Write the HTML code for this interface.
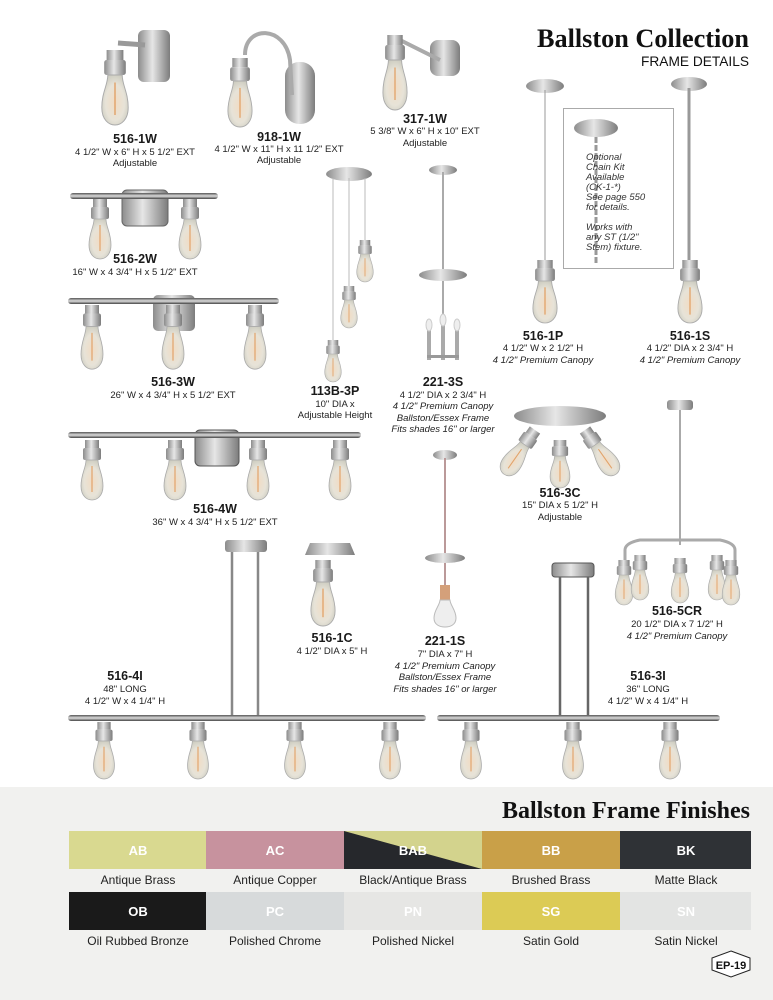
<!DOCTYPE html>
<html><head><meta charset="utf-8"><style>
html,body{margin:0;padding:0;background:#fff;width:773px;height:1000px;overflow:hidden}
svg{display:block}
.c{font:bold 12.5px "Liberation Sans",sans-serif;fill:#1a1a1a;text-anchor:middle}
.d{font:9.5px "Liberation Sans",sans-serif;fill:#222;text-anchor:middle}
.i{font:italic 9.5px "Liberation Sans",sans-serif;fill:#222;text-anchor:middle}
.n{font:italic 9.5px "Liberation Sans",sans-serif;fill:#333}
.sw{font:bold 13px "Liberation Sans",sans-serif;fill:#fff;text-anchor:middle}
.sl{font:12px "Liberation Sans",sans-serif;fill:#222;text-anchor:middle}
</style></head><body>
<svg width="773" height="1000" viewBox="0 0 773 1000" xmlns="http://www.w3.org/2000/svg">
<defs>
<linearGradient id="m" x1="0" x2="1"><stop offset="0" stop-color="#8c8c8c"/><stop offset=".45" stop-color="#e6e6e6"/><stop offset="1" stop-color="#7c7c7c"/></linearGradient>
<linearGradient id="bar" x1="0" y1="0" x2="0" y2="1"><stop offset="0" stop-color="#555"/><stop offset=".5" stop-color="#ddd"/><stop offset="1" stop-color="#444"/></linearGradient>
<radialGradient id="gl" cx=".5" cy=".55" r=".6"><stop offset="0" stop-color="#f1dcc4"/><stop offset=".6" stop-color="#e7e3d8"/><stop offset="1" stop-color="#c9c9bd"/></radialGradient>
<g id="b">
<rect x="-7" y="0" width="14" height="8" fill="url(#m)"/>
<rect x="-9" y="8" width="18" height="12" rx="2" fill="url(#m)"/>
<path d="M-6 20 C-6 28 -11 34 -11 46 C-11 56 -5 60 0 60 C5 60 11 56 11 46 C11 34 6 28 6 20 Z" fill="url(#gl)" stroke="#aaa" stroke-width=".8"/>
<line x1="0" y1="26" x2="0" y2="52" stroke="#e2a36a" stroke-width="1.2"/>
</g>
</defs>

<!-- title -->
<text x="749" y="47" text-anchor="end" textLength="212" lengthAdjust="spacingAndGlyphs" style="font:bold 26px 'Liberation Serif',serif;fill:#111">Ballston Collection</text>
<text x="749" y="66" text-anchor="end" textLength="108" lengthAdjust="spacingAndGlyphs" style="font:14px 'Liberation Sans',sans-serif;fill:#111">FRAME DETAILS</text>

<!-- 516-1W -->
<rect x="138" y="30" width="32" height="52" rx="6" fill="url(#m)"/>
<line x1="118" y1="43" x2="145" y2="45" stroke="#999" stroke-width="5"/>
<use href="#b" transform="translate(115,50) scale(1.2,1.25)"/>
<text class="c" x="135" y="143">516-1W</text><text class="d" x="135" y="155">4 1/2" W x 6" H x 5 1/2" EXT</text><text class="d" x="135" y="166">Adjustable</text>
<!-- 918-1W -->
<rect x="285" y="62" width="30" height="62" rx="14" fill="url(#m)"/>
<path d="M245 55 C245 25 285 25 290 60 L292 95" fill="none" stroke="#aaa" stroke-width="4"/>
<use href="#b" transform="translate(240,58) scale(1.1,1.15)"/>
<text class="c" x="279" y="141">918-1W</text><text class="d" x="279" y="152">4 1/2" W x 11" H x 11 1/2" EXT</text><text class="d" x="279" y="163">Adjustable</text>
<!-- 317-1W -->
<rect x="430" y="40" width="30" height="36" rx="8" fill="url(#m)"/>
<line x1="400" y1="40" x2="440" y2="60" stroke="#aaa" stroke-width="4"/>
<use href="#b" transform="translate(395,35) scale(1.1,1.25)"/>
<text class="c" x="425" y="123">317-1W</text><text class="d" x="425" y="134">5 3/8" W x 6" H x 10" EXT</text><text class="d" x="425" y="146">Adjustable</text>

<!-- 516-2W -->
<rect x="122" y="190" width="46" height="36" rx="5" fill="url(#m)" stroke="#666"/>
<rect x="70" y="193" width="148" height="6" rx="3" fill="url(#bar)"/>
<use href="#b" transform="translate(100,199)"/><use href="#b" transform="translate(190,199)"/>
<text class="c" x="135" y="263">516-2W</text><text class="d" x="135" y="275">16" W x 4 3/4" H x 5 1/2" EXT</text>
<!-- 516-3W -->
<rect x="153" y="295" width="42" height="36" rx="5" fill="url(#m)"/>
<rect x="68" y="298" width="211" height="6" rx="3" fill="url(#bar)"/>
<use href="#b" transform="translate(92,305) scale(1,1.07)"/><use href="#b" transform="translate(173,305) scale(1,1.07)"/><use href="#b" transform="translate(255,305) scale(1,1.07)"/>
<text class="c" x="173" y="386">516-3W</text><text class="d" x="173" y="398">26" W x 4 3/4" H x 5 1/2" EXT</text>
<!-- 516-4W -->
<rect x="195" y="430" width="44" height="36" rx="5" fill="url(#m)" stroke="#555"/>
<rect x="68" y="432" width="293" height="6" rx="3" fill="url(#bar)"/>
<use href="#b" transform="translate(92,440)"/><use href="#b" transform="translate(175,440)"/><use href="#b" transform="translate(258,440)"/><use href="#b" transform="translate(340,440)"/>
<text class="c" x="215" y="513">516-4W</text><text class="d" x="215" y="525">36" W x 4 3/4" H x 5 1/2" EXT</text>

<!-- 113B-3P -->
<ellipse cx="349" cy="174" rx="23" ry="7" fill="url(#m)"/>
<line x1="333" y1="178" x2="333" y2="342" stroke="#bbb"/><line x1="349" y1="178" x2="349" y2="288" stroke="#bbb"/><line x1="365" y1="178" x2="365" y2="242" stroke="#bbb"/>
<use href="#b" transform="translate(333,340) scale(.75,.7)"/><use href="#b" transform="translate(349,286) scale(.75,.7)"/><use href="#b" transform="translate(365,240) scale(.75,.7)"/>
<text class="c" x="335" y="395">113B-3P</text><text class="d" x="335" y="407">10" DIA x</text><text class="d" x="335" y="418">Adjustable Height</text>
<!-- 221-3S -->
<ellipse cx="443" cy="170" rx="14" ry="5" fill="url(#m)"/>
<line x1="443" y1="172" x2="443" y2="350" stroke="#aaa" stroke-width="2"/>
<ellipse cx="443" cy="275" rx="24" ry="6" fill="url(#m)"/>
<rect x="427" y="330" width="4" height="30" fill="#aaa"/><rect x="441" y="325" width="4" height="35" fill="#aaa"/><rect x="455" y="330" width="4" height="30" fill="#aaa"/>
<rect x="427" y="355" width="32" height="3" fill="#999"/>
<ellipse cx="429" cy="325" rx="3" ry="6" fill="#eee" stroke="#ccc"/><ellipse cx="443" cy="320" rx="3" ry="6" fill="#eee" stroke="#ccc"/><ellipse cx="457" cy="325" rx="3" ry="6" fill="#eee" stroke="#ccc"/>
<text class="c" x="443" y="386">221-3S</text><text class="d" x="443" y="398">4 1/2" DIA x 2 3/4" H</text><text class="i" x="443" y="409">4 1/2" Premium Canopy</text><text class="i" x="443" y="421">Ballston/Essex Frame</text><text class="i" x="443" y="432">Fits shades 16" or larger</text>
<!-- 516-1P -->
<ellipse cx="545" cy="86" rx="19" ry="7" fill="url(#m)"/>
<line x1="545" y1="90" x2="545" y2="262" stroke="#999"/>
<use href="#b" transform="translate(545,260) scale(1.1,1.05)"/>
<text class="c" x="543" y="340">516-1P</text><text class="d" x="543" y="351">4 1/2" W x 2 1/2" H</text><text class="i" x="543" y="363">4 1/2" Premium Canopy</text>
<!-- chain box -->
<rect x="563.5" y="108.5" width="110" height="160" fill="#fff" stroke="#aaa"/>
<ellipse cx="596" cy="128" rx="22" ry="9" fill="url(#m)"/>
<line x1="596" y1="137" x2="596" y2="265" stroke="#999" stroke-width="3" stroke-dasharray="6 2"/>
<text class="n" x="586" y="160">Optional</text><text class="n" x="586" y="170">Chain Kit</text><text class="n" x="586" y="180">Available</text><text class="n" x="586" y="190">(CK-1-*)</text><text class="n" x="586" y="200">See page 550</text><text class="n" x="586" y="210">for details.</text><text class="n" x="586" y="230">Works with</text><text class="n" x="586" y="240">any ST (1/2"</text><text class="n" x="586" y="250">Stem) fixture.</text>
<!-- 516-1S -->
<ellipse cx="689" cy="84" rx="18" ry="7" fill="url(#m)"/>
<line x1="689" y1="88" x2="689" y2="262" stroke="#999" stroke-width="3"/>
<use href="#b" transform="translate(690,260) scale(1.1,1.05)"/>
<text class="c" x="690" y="340">516-1S</text><text class="d" x="690" y="351">4 1/2" DIA x 2 3/4" H</text><text class="i" x="690" y="363">4 1/2" Premium Canopy</text>
<!-- 516-3C -->
<ellipse cx="560" cy="416" rx="46" ry="10" fill="url(#m)"/>
<use href="#b" transform="translate(535,430) rotate(35) scale(.9)"/><use href="#b" transform="translate(585,430) rotate(-35) scale(.9)"/><use href="#b" transform="translate(560,440) scale(.9,.8)"/>
<text class="c" x="560" y="497">516-3C</text><text class="d" x="560" y="508">15" DIA x 5 1/2" H</text><text class="d" x="560" y="520">Adjustable</text>
<!-- 516-5CR -->
<rect x="667" y="400" width="26" height="10" rx="3" fill="url(#m)"/>
<line x1="680" y1="410" x2="680" y2="545" stroke="#aaa" stroke-width="2"/>
<path d="M625 565 L625 550 Q625 543 640 540 L720 540 Q735 543 735 550 L735 565" fill="none" stroke="#aaa" stroke-width="3"/>
<use href="#b" transform="translate(624,560) scale(.8,.75)"/><use href="#b" transform="translate(640,555) scale(.8,.75)"/><use href="#b" transform="translate(680,558) scale(.8,.75)"/><use href="#b" transform="translate(717,555) scale(.8,.75)"/><use href="#b" transform="translate(731,560) scale(.8,.75)"/>
<text class="c" x="677" y="615">516-5CR</text><text class="d" x="677" y="627">20 1/2" DIA x 7 1/2" H</text><text class="i" x="677" y="639">4 1/2" Premium Canopy</text>
<!-- 221-1S -->
<ellipse cx="445" cy="455" rx="12" ry="5" fill="url(#m)"/>
<line x1="445" y1="458" x2="445" y2="590" stroke="#b99" stroke-width="2"/>
<ellipse cx="445" cy="558" rx="20" ry="5" fill="url(#m)"/>
<rect x="440" y="585" width="10" height="15" fill="#d4a07a"/>
<path d="M440 600 C440 605 434 610 434 618 C434 625 440 627 445 627 C450 627 456 625 456 618 C456 610 450 605 450 600Z" fill="#eee" stroke="#bbb"/>
<text class="c" x="445" y="645">221-1S</text><text class="d" x="445" y="657">7" DIA x 7" H</text><text class="i" x="445" y="669">4 1/2" Premium Canopy</text><text class="i" x="445" y="680">Ballston/Essex Frame</text><text class="i" x="445" y="692">Fits shades 16" or larger</text>
<!-- 516-1C -->
<path d="M305 555 L310 543 L350 543 L355 555 Z" fill="url(#m)"/>
<use href="#b" transform="translate(323,560) scale(1.1,1.1)"/>
<text class="c" x="332" y="642">516-1C</text><text class="d" x="332" y="654">4 1/2" DIA x 5" H</text>
<!-- 516-4I -->
<rect x="225" y="540" width="42" height="12" rx="3" fill="url(#m)"/>
<line x1="232" y1="552" x2="232" y2="716" stroke="#888" stroke-width="2.5"/><line x1="258" y1="552" x2="258" y2="716" stroke="#888" stroke-width="2.5"/>
<rect x="68" y="715" width="358" height="6" rx="3" fill="url(#bar)"/>
<use href="#b" transform="translate(104,722) scale(.95,.95)"/><use href="#b" transform="translate(198,722) scale(.95,.95)"/><use href="#b" transform="translate(295,722) scale(.95,.95)"/><use href="#b" transform="translate(390,722) scale(.95,.95)"/>
<text class="c" x="125" y="680">516-4I</text><text class="d" x="125" y="692">48" LONG</text><text class="d" x="125" y="704">4 1/2" W x 4 1/4" H</text>
<!-- 516-3I -->
<rect x="552" y="563" width="42" height="14" rx="3" fill="url(#m)" stroke="#555"/>
<line x1="560" y1="577" x2="560" y2="716" stroke="#666" stroke-width="2.5"/><line x1="588" y1="577" x2="588" y2="716" stroke="#666" stroke-width="2.5"/>
<rect x="437" y="715" width="283" height="6" rx="3" fill="url(#bar)"/>
<use href="#b" transform="translate(471,722) scale(.95,.95)"/><use href="#b" transform="translate(573,722) scale(.95,.95)"/><use href="#b" transform="translate(670,722) scale(.95,.95)"/>
<text class="c" x="648" y="680">516-3I</text><text class="d" x="648" y="692">36" LONG</text><text class="d" x="648" y="704">4 1/2" W x 4 1/4" H</text>

<!-- finishes -->
<rect x="0" y="787" width="773" height="213" fill="#f1f1ef"/>
<text x="750" y="818" text-anchor="end" textLength="248" lengthAdjust="spacingAndGlyphs" style="font:bold 24px 'Liberation Serif',serif;fill:#111">Ballston Frame Finishes</text>
<rect x="69" y="831" width="137" height="38" fill="#d9d990"/>
<rect x="206" y="831" width="138" height="38" fill="#c7929e"/>
<rect x="344" y="831" width="138" height="38" fill="#d3d38d"/>
<polygon points="344,831 482,869 344,869" fill="#26282c"/>
<rect x="482" y="831" width="138" height="38" fill="#c9a048"/>
<rect x="620" y="831" width="131" height="38" fill="#2f3236"/>
<rect x="69" y="892" width="137" height="38" fill="#1a1a1a"/>
<rect x="206" y="892" width="138" height="38" fill="#d7dadb"/>
<rect x="344" y="892" width="138" height="38" fill="#e6e6e4"/>
<rect x="482" y="892" width="138" height="38" fill="#dccb55"/>
<rect x="620" y="892" width="131" height="38" fill="#e3e4e3"/>
<text class="sw" x="138" y="855">AB</text><text class="sw" x="275" y="855">AC</text><text class="sw" x="413" y="855">BAB</text><text class="sw" x="551" y="855">BB</text><text class="sw" x="686" y="855">BK</text>
<text class="sw" x="138" y="916">OB</text><text class="sw" x="275" y="916">PC</text><text class="sw" x="413" y="916">PN</text><text class="sw" x="551" y="916">SG</text><text class="sw" x="686" y="916">SN</text>
<text class="sl" x="138" y="884">Antique Brass</text><text class="sl" x="275" y="884">Antique Copper</text><text class="sl" x="413" y="884">Black/Antique Brass</text><text class="sl" x="551" y="884">Brushed Brass</text><text class="sl" x="686" y="884">Matte Black</text>
<text class="sl" x="138" y="945">Oil Rubbed Bronze</text><text class="sl" x="275" y="945">Polished Chrome</text><text class="sl" x="413" y="945">Polished Nickel</text><text class="sl" x="551" y="945">Satin Gold</text><text class="sl" x="686" y="945">Satin Nickel</text>
<polygon points="731,951 750,958 750,970 731,977 712,970 712,958" fill="#fff" stroke="#222"/>
<text x="731" y="969" text-anchor="middle" style="font:bold 11px 'Liberation Sans',sans-serif;fill:#111">EP-19</text>
</svg>
</body></html>
